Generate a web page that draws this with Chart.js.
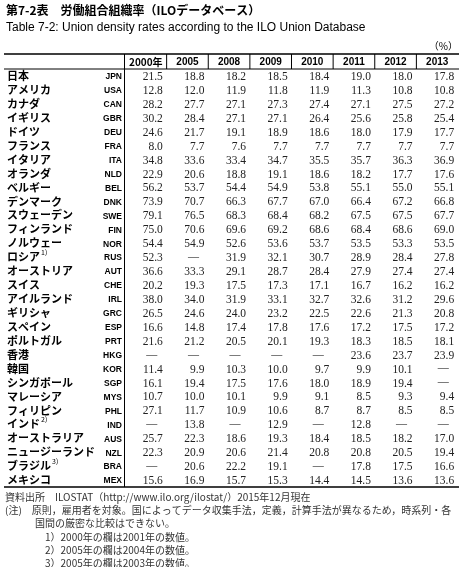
<!DOCTYPE html>
<html><head><meta charset="utf-8">
<script src="https://cdn.jsdelivr.net/npm/chart.js@4"></script>
<style>html,body{margin:0;padding:0;background:#fff}canvas{display:block}</style>
</head><body><canvas id="c" width="463" height="567"></canvas>
<script>
const years=["2000年","2005","2008","2009","2010","2011","2012","2013"];
const names=["日本","アメリカ","カナダ","イギリス","ドイツ","フランス","イタリア","オランダ","ベルギー","デンマーク","スウェーデン","フィンランド","ノルウェー","ロシア","オーストリア","スイス","アイルランド","ギリシャ","スペイン","ポルトガル","香港","韓国","シンガポール","マレーシア","フィリピン","インド","オーストラリア","ニュージーランド","ブラジル","メキシコ"];
const sups=["","","","","","","","","","","","","","1)","","","","","","","","","","","","2)","","","3)",""];
const codes=["JPN","USA","CAN","GBR","DEU","FRA","ITA","NLD","BEL","DNK","SWE","FIN","NOR","RUS","AUT","CHE","IRL","GRC","ESP","PRT","HKG","KOR","SGP","MYS","PHL","IND","AUS","NZL","BRA","MEX"];
const v2000=[21.5,12.8,28.2,30.2,24.6,8.0,34.8,22.9,56.2,73.9,79.1,75.0,54.4,52.3,36.6,20.2,38.0,26.5,16.6,21.6,null,11.4,16.1,10.7,27.1,null,25.7,22.3,null,15.6];
const v2005=[18.8,12.0,27.7,28.4,21.7,7.7,33.6,20.6,53.7,70.7,76.5,70.6,54.9,null,33.3,19.3,34.0,24.6,14.8,21.2,null,9.9,19.4,10.0,11.7,13.8,22.3,20.9,20.6,16.9];
const v2008=[18.2,11.9,27.1,27.1,19.1,7.6,33.4,18.8,54.4,66.3,68.3,69.6,52.6,31.9,29.1,17.5,31.9,24.0,17.4,20.5,null,10.3,17.5,10.1,10.9,null,18.6,20.6,22.2,15.7];
const v2009=[18.5,11.8,27.3,27.1,18.9,7.7,34.7,19.1,54.9,67.7,68.4,69.2,53.6,32.1,28.7,17.3,33.1,23.2,17.8,20.1,null,10.0,17.6,9.9,10.6,12.9,19.3,21.4,19.1,15.3];
const v2010=[18.4,11.9,27.4,26.4,18.6,7.7,35.5,18.6,53.8,67.0,68.2,68.6,53.7,30.7,28.4,17.1,32.7,22.5,17.6,19.3,null,9.7,18.0,9.1,8.7,null,18.4,20.8,null,14.4];
const v2011=[19.0,11.3,27.1,25.6,18.0,7.7,35.7,18.2,55.1,66.4,67.5,68.4,53.5,28.9,27.9,16.7,32.6,22.6,17.2,18.3,23.6,9.9,18.9,8.5,8.7,12.8,18.5,20.8,17.8,14.5];
const v2012=[18.0,10.8,27.5,25.8,17.9,7.7,36.3,17.7,55.0,67.2,67.5,68.6,53.3,28.4,27.4,16.2,31.2,21.3,17.5,18.5,23.7,10.1,19.4,9.3,8.5,null,18.2,20.5,17.5,13.6];
const v2013=[17.8,10.8,27.2,25.4,17.7,7.7,36.9,17.6,55.1,66.8,67.7,69.0,53.5,27.8,27.4,16.2,29.6,20.8,17.2,18.1,23.9,null,null,9.4,8.5,null,17.0,19.4,16.6,13.6];
const cols=[v2000,v2005,v2008,v2009,v2010,v2011,v2012,v2013];
const title="第7-2表　労働組合組織率（ILOデータベース）";
const subtitle="Table 7-2: Union density rates according to the ILO Union Database";
const notes=["資料出所　ILOSTAT（http://www.ilo.org/ilostat/）2015年12月現在","(注)　原則，雇用者を対象。国によってデータ収集手法，定義，計算手法が異なるため，時系列・各","　　　国間の厳密な比較はできない。","　　　　1）2000年の欄は2001年の数値。","　　　　2）2005年の欄は2004年の数値。","　　　　3）2005年の欄は2003年の数値。"];

const datasets=cols.map((arr,ci)=>({label:years[ci],data:arr.map((v,ri)=>({x:ci,y:codes[ri],v:v})),pointRadius:0,showLine:false}));
const JP='"Noto Sans CJK JP"';
const tablePlugin={id:'table',afterDatasetsDraw(chart){
  const ctx=chart.ctx,a=chart.chartArea,xs=chart.scales.x,ys=chart.scales.y;
  ctx.save();ctx.fillStyle='#000';ctx.strokeStyle='#000';ctx.textBaseline='middle';
  ctx.font='bold 12px '+JP;ctx.textAlign='left';ctx.fillText(title,6,10);
  ctx.font='12px "Liberation Sans"';ctx.fillText(subtitle,6,28);
  ctx.font='10px '+JP;ctx.textAlign='right';ctx.fillText('（%）',458,46);
  const hTop=a.top-15;
  ctx.lineWidth=1.5;ctx.beginPath();ctx.moveTo(4,hTop);ctx.lineTo(459,hTop);ctx.moveTo(4,a.bottom);ctx.lineTo(459,a.bottom);ctx.stroke();
  ctx.lineWidth=1;ctx.beginPath();ctx.moveTo(4,a.top);ctx.lineTo(459,a.top);ctx.stroke();
  ctx.beginPath();ctx.moveTo(a.left-0.5,hTop);ctx.lineTo(a.left-0.5,a.bottom);
  const step=xs.getPixelForValue(1)-xs.getPixelForValue(0);
  for(let i=1;i<8;i++){const x=xs.getPixelForValue(i)-step/2;ctx.moveTo(x,hTop);ctx.lineTo(x,a.top);}
  ctx.stroke();
  ctx.textAlign='center';
  years.forEach((y,i)=>{ctx.font=i==0?'bold 10px '+JP:'bold 10px "Liberation Sans"';ctx.fillText(y,xs.getPixelForValue(i),(hTop+a.top)/2+1);});
  codes.forEach((c,ri)=>{const y=ys.getPixelForValue(ri);
    ctx.textAlign='left';ctx.font='bold 11px '+JP;ctx.fillText(names[ri],7,y);
    if(sups[ri]){const w=ctx.measureText(names[ri]).width;ctx.font='7px '+JP;ctx.fillText(sups[ri],8+w,y-5);}
    ctx.textAlign='right';ctx.font='bold 8.5px "Liberation Sans"';ctx.fillText(c,a.left-3,y+1);});
  chart.data.datasets.forEach((ds,di)=>{const meta=chart.getDatasetMeta(di);
    meta.data.forEach((pt,i)=>{const v=ds.data[i].v;
      if(v===null){ctx.textAlign='center';ctx.font='11px "Liberation Serif"';ctx.fillText('—',pt.x+6,pt.y);}
      else{ctx.textAlign='right';ctx.font='11.5px "Liberation Serif"';ctx.fillStyle='#222';ctx.fillText(v.toFixed(1),pt.x+17,pt.y+1);ctx.fillStyle='#000';}
    });});
  ctx.textAlign='left';ctx.font='10px '+JP;ctx.fillStyle='#333';
  notes.forEach((n,i)=>ctx.fillText(n,5,a.bottom+10+i*13.3));
  ctx.restore();
}};
new Chart(document.getElementById('c'),{type:'scatter',data:{datasets},
 options:{responsive:false,animation:false,events:[],
  layout:{padding:{left:125,right:5,top:69,bottom:80}},
  plugins:{legend:{display:false},tooltip:{enabled:false}},
  scales:{x:{type:'linear',min:-0.5,max:7.5,display:false},
          y:{type:'category',labels:codes,offset:true,display:false}}},
 plugins:[tablePlugin]});
</script></body></html>
